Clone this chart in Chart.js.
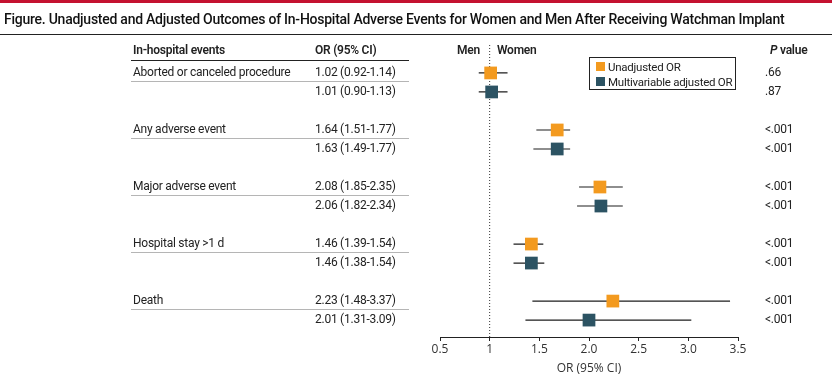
<!DOCTYPE html>
<html lang="en">
<head>
<meta charset="UTF-8">
<title>Watchman forest plot</title>
<script src="https://cdn.jsdelivr.net/npm/chart.js"></script>
<style>
  body { margin: 0; background: #fff; }
  #wrap { position: relative; width: 832px; height: 381px; overflow: hidden; font-family: Roboto, "Open Sans", sans-serif; color: #222; }
  #wrap canvas { position: absolute; left: 0; top: 0; }
  .txt { position: absolute; height: 16px; line-height: 16px; font-size: 12px; letter-spacing: -0.25px; white-space: nowrap; }
  .rule { position: absolute; height: 0; }
  #topbar { position: absolute; left: 0; top: 0; width: 832px; height: 3px; background: #c41230; }
  #title { position: absolute; left: 4px; top: 11px; font-size: 14px; font-weight: 500; letter-spacing: -0.25px; white-space: nowrap; color: #111; }
  #legend { position: absolute; left: 589px; top: 57px; width: 147px; height: 33px; border: 1px solid #222; box-sizing: border-box; }
  .sw { position: absolute; width: 9px; height: 9px; }
</style>
</head>
<body>
<div id="wrap">
  <canvas id="forest" width="832" height="381"></canvas>
  <div id="topbar"></div>
  <div id="title">Figure. Unadjusted and Adjusted Outcomes of In-Hospital Adverse Events for Women and Men After Receiving Watchman Implant</div>
  <div class="rule" style="left:0;top:34px;width:832px;border-top:1.5px solid #222"></div>
  <div id="legend"></div>
</div>

<script>
// table text
const events = ['Aborted or canceled procedure', 'Any adverse event', 'Major adverse event', 'Hospital stay >1 d', 'Death'];
const orTextUnadj = ['1.02 (0.92-1.14)', '1.64 (1.51-1.77)', '2.08 (1.85-2.35)', '1.46 (1.39-1.54)', '2.23 (1.48-3.37)'];
const orTextAdj = ['1.01 (0.90-1.13)', '1.63 (1.49-1.77)', '2.06 (1.82-2.34)', '1.46 (1.38-1.54)', '2.01 (1.31-3.09)'];
const pUnadj = ['.66', '<.001', '<.001', '<.001', '<.001'];
const pAdj = ['.87', '<.001', '<.001', '<.001', '<.001'];

// plotted values
const orUnadj = [1.01, 1.68, 2.11, 1.42, 2.24];
const loUnadj = [0.89, 1.47, 1.90, 1.24, 1.43];
const hiUnadj = [1.18, 1.81, 2.34, 1.54, 3.42];
const orAdj = [1.02, 1.68, 2.12, 1.42, 2.00];
const loAdj = [0.89, 1.44, 1.88, 1.24, 1.36];
const hiAdj = [1.18, 1.81, 2.34, 1.55, 3.03];

const xTickLabels = ['0.5', '1', '1.5', '2.0', '2.5', '3.0', '3.5'];
const legendLabels = ['Unadjusted OR', 'Multivariable adjusted OR'];

const orange = '#f39a1f';
const teal = '#2c5363';

// row positions: unadjusted at 3i, adjusted at 3i+1
const rowU = events.map((e, i) => 3 * i);
const rowA = events.map((e, i) => 3 * i + 1);
const yMin = -1.47, yMax = 13.89;

// CI segments broken by gaps
function segments(lo, hi, rows) {
    const out = [];
    lo.forEach((v, i) => {
        out.push({x: v, y: rows[i]}, {x: hi[i], y: rows[i]}, {x: null, y: null});
    });
    return out;
}

new Chart(document.getElementById('forest'), {
    type: 'scatter',
    data: {
        datasets: [
            {
                label: legendLabels[0],
                data: orUnadj.map((v, i) => ({x: v, y: rowU[i]})),
                pointStyle: 'rect', pointRadius: 9, pointHoverRadius: 9,
                backgroundColor: orange, borderColor: orange, borderWidth: 0,
                order: 0
            },
            {
                label: legendLabels[1],
                data: orAdj.map((v, i) => ({x: v, y: rowA[i]})),
                pointStyle: 'rect', pointRadius: 9, pointHoverRadius: 9,
                backgroundColor: teal, borderColor: teal, borderWidth: 0,
                order: 0
            },
            {
                data: segments(loUnadj, hiUnadj, rowU).concat(segments(loAdj, hiAdj, rowA)),
                showLine: true, spanGaps: false, pointRadius: 0,
                borderColor: '#1e1e1e', borderWidth: 1.2,
                order: 1
            },
            {
                // line of no difference
                data: [{x: 1, y: yMin}, {x: 1, y: yMax}],
                showLine: true, pointRadius: 0,
                borderColor: '#333', borderWidth: 1, borderDash: [1, 2],
                order: 2
            }
        ]
    },
    options: {
        responsive: false,
        animation: false,
        layout: {padding: {left: 440, right: 94, top: 45, bottom: 0}},
        plugins: {legend: {display: false}, tooltip: {enabled: false}},
        scales: {
            x: {
                type: 'linear', min: 0.5, max: 3.5,
                ticks: {
                    stepSize: 0.5, padding: 1, color: '#333',
                    font: {family: 'Open Sans', size: 12},
                    callback: (v) => xTickLabels[Math.round((v - 0.5) / 0.5)]
                },
                grid: {drawOnChartArea: false, drawTicks: true, tickLength: 4, color: '#222'},
                border: {color: '#222', width: 1},
                title: {display: true, text: 'OR (95% CI)', color: '#333',
                        font: {family: 'Open Sans', size: 12}, padding: {top: 0, bottom: 5}},
                afterFit: (s) => { s.height = 44; }
            },
            y: {type: 'linear', min: yMin, max: yMax, reverse: true, display: false}
        }
    }
});

// table, headers, p values, legend as text
const wrap = document.getElementById('wrap');
function addText(str, x, yc, style) {
    const d = document.createElement('div');
    d.className = 'txt';
    d.textContent = str;
    d.style.left = x + 'px';
    d.style.top = (yc - 8) + 'px';
    if (style) Object.assign(d.style, style);
    wrap.appendChild(d);
    return d;
}
function addRule(x, y, w, color) {
    const d = document.createElement('div');
    d.className = 'rule';
    d.style.left = x + 'px';
    d.style.top = y + 'px';
    d.style.width = w + 'px';
    d.style.borderTop = '1px solid ' + color;
    wrap.appendChild(d);
}

const bold = {fontWeight: '600'};
addText('In-hospital events', 133, 50, bold);
addText('OR (95% CI)', 315, 50, bold);
addRule(131, 60, 278, '#222');
addText('Men', 0, 50, Object.assign({width: '480px', textAlign: 'right'}, bold));
addText('Women', 497, 50, bold);
const pHead = addText('', 770, 50, bold);
pHead.innerHTML = '<i>P</i> value';

events.forEach((e, i) => {
    const yU = 72 + 57 * i, yA = yU + 19;
    addText(e, 133, yU);
    addText(orTextUnadj[i], 315, yU);
    addText(orTextAdj[i], 315, yA);
    addRule(131, yU + 9, 278, '#b5b5b5');
    addText(pUnadj[i], 765, yU);
    addText(pAdj[i], 765, yA);
});

const leg = document.getElementById('legend');
[orange, teal].forEach((c, i) => {
    const sw = document.createElement('div');
    sw.className = 'sw';
    sw.style.left = '6px';
    sw.style.top = (4 + 15 * i) + 'px';
    sw.style.background = c;
    leg.appendChild(sw);
    const t = document.createElement('div');
    t.className = 'txt';
    t.textContent = legendLabels[i];
    t.style.left = '18px';
    t.style.top = (1 + 15 * i) + 'px';
    t.style.fontSize = '11.5px';
    leg.appendChild(t);
});
</script>
</body>
</html>
